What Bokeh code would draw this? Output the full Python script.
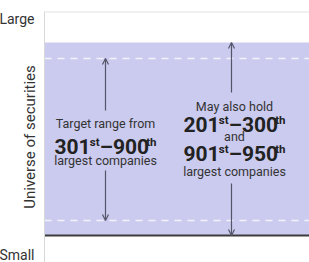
from bokeh.plotting import figure
from bokeh.models import (Range1d, FixedTicker, Arrow, OpenHead, Span,
                          ColumnDataSource)
from bokeh.core.properties import value
from bokeh.embed import file_html
from bokeh.resources import INLINE

# ---------------- data ----------------
# schematic vertical levels on the "universe of securities" (size) axis
size_ticks = [3, 244]
size_labels = ["Small", "Large"]
band_bounds = [27, 220]          # 950th .. 201st (may also hold)
target_bounds = [42, 204]        # 900th .. 301st (target range)
x_extent = [0, 265]

left_lines = ["Target range from", "largest companies"]
left_rank = [("301", "st"), ("900", "th")]
right_lines = ["May also hold", "and", "largest companies"]
right_rank_a = [("201", "st"), ("300", "th")]
right_rank_b = [("901", "st"), ("950", "th")]

FONT = "Roboto"
TXT = "#333333"
BAND = "#cbcbef"
ARROW = "#55556a"

p = figure(width=309, height=262, output_backend="svg", toolbar_location=None,
           x_range=Range1d(*x_extent), y_range=Range1d(0, 251),
           x_axis_location=None, min_border_left=44, min_border_right=0,
           min_border_top=11, min_border_bottom=0)
p.grid.visible = False
p.outline_line_color = None
p.background_fill_color = "white"
p.border_fill_color = "white"

ax = p.yaxis[0]
ax.ticker = FixedTicker(ticks=size_ticks)
ax.major_label_overrides = {t: l for t, l in zip(size_ticks, size_labels)}
ax.major_tick_line_color = None
ax.minor_tick_line_color = None
ax.axis_line_color = "#d8d8d8"
ax.axis_line_width = 1
ax.major_label_text_font = FONT
ax.major_label_text_font_size = "14px"
ax.major_label_text_color = TXT
ax.major_label_standoff = 4
ax.axis_label = "Universe of securities"
ax.axis_label_text_font = FONT
ax.axis_label_text_font_size = "15px"
ax.axis_label_text_font_style = "normal"
ax.axis_label_text_color = TXT
ax.axis_label_standoff = -43

# top rule
p.add_layout(Span(location=251, dimension="width", line_color="#e2e2e2", line_width=2))

# shaded band
p.quad(left=x_extent[0], right=x_extent[1], bottom=band_bounds[0], top=band_bounds[1],
       fill_color=BAND, line_color=None)
# dashed target bounds
for yv in target_bounds:
    p.line(x=x_extent, y=[yv, yv], line_color="#f2f2fb", line_width=1.5, line_dash="7 6")
# bottom rule
p.line(x=x_extent, y=[band_bounds[0], band_bounds[0]], line_color="#3c3c3c", line_width=2)

# arrows
lx, rx = 61, 187
arrows = dict(xs=[lx, lx, rx, rx], ys=[152, 92, 170, 79],
              xe=[lx, lx, rx, rx], ye=[target_bounds[1], target_bounds[0],
                                      band_bounds[1], band_bounds[0]])
src = ColumnDataSource(arrows)
p.add_layout(Arrow(source=src, x_start="xs", y_start="ys", x_end="xe", y_end="ye",
                   line_color=ARROW, line_width=1.2,
                   end=OpenHead(size=6, line_color=ARROW, line_width=1.2)))

def plain(x, y, s, size="12.5px"):
    p.text(x=[x], y=[y], text=[s], text_align="center", text_baseline="alphabetic",
           text_font=value(FONT), text_font_size=size, text_color=TXT)

MAINW = {"–": 11.0}
DIG = 11.8
SUPW = {"s": 5.9, "t": 4.0, "h": 6.4}

def rank(x, y, pair):
    (a, sa), (b, sb) = pair
    pieces = [(a, False), (sa, True), ("–" + b, False), (sb, True)]
    widths = [sum(SUPW[c] for c in t) if sup else sum(MAINW.get(c, DIG) for c in t)
              for t, sup in pieces]
    start = -sum(widths) / 2
    offs = []
    for w in widths:
        offs.append(start)
        start += w
    main = [i for i, (t, s) in enumerate(pieces) if not s]
    sup = [i for i, (t, s) in enumerate(pieces) if s]
    p.text(x=[x] * len(main), y=[y] * len(main), text=[pieces[i][0] for i in main],
           x_offset=[offs[i] for i in main], text_align="left", text_baseline="alphabetic",
           text_font=value(FONT), text_font_style="bold", text_font_size="21px",
           text_color="#222222")
    p.text(x=[x] * len(sup), y=[y] * len(sup), text=[pieces[i][0] for i in sup],
           x_offset=[offs[i] for i in sup], y_offset=[-5] * len(sup),
           text_align="left", text_baseline="alphabetic",
           text_font=value(FONT), text_font_style="bold", text_font_size="11.5px",
           text_color="#222222")

# left block
plain(lx, 139, left_lines[0])
rank(lx, 116, left_rank)
plain(lx, 102, left_lines[1])

# right block
cx = 190
plain(cx, 156, right_lines[0])
rank(cx, 138, right_rank_a)
plain(cx, 126, right_lines[1])
rank(cx, 109, right_rank_b)
plain(cx, 91, right_lines[2])

open("out.html", "w").write(file_html(p, INLINE))
